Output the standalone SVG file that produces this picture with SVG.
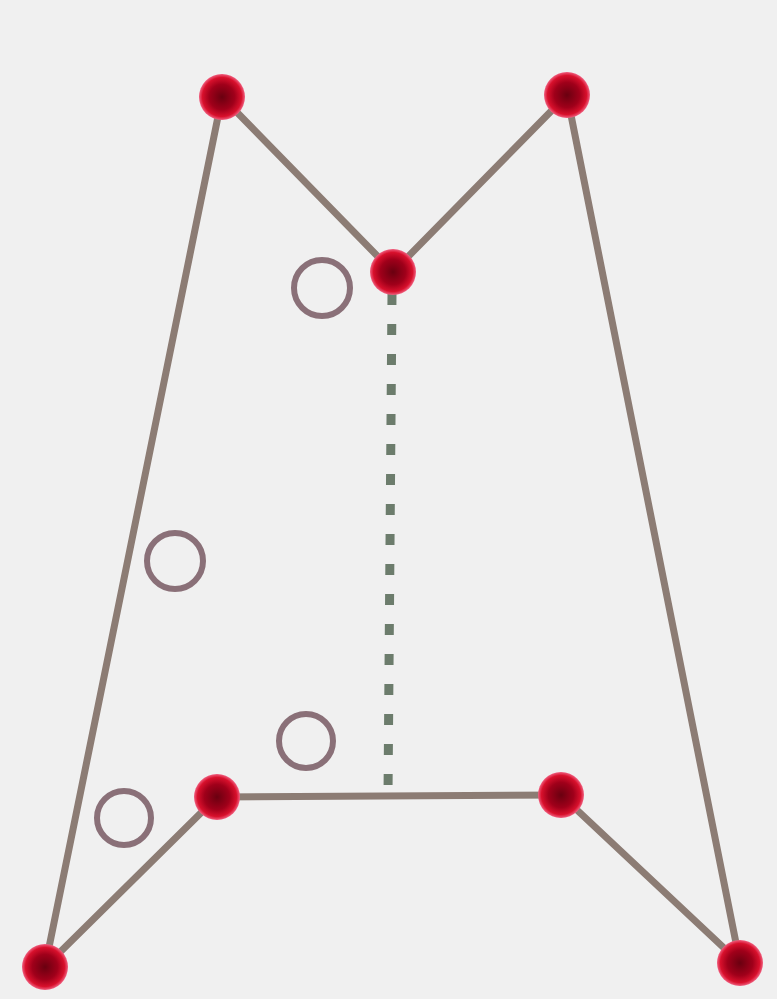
<svg xmlns="http://www.w3.org/2000/svg" width="777" height="999" viewBox="0 0 777 999">
<defs>
<radialGradient id="ng" cx="50%" cy="50%" r="50%">
<stop offset="0" stop-color="#6a0010"/>
<stop offset="0.55" stop-color="#a0001a"/>
<stop offset="0.85" stop-color="#d8102c"/>
<stop offset="1" stop-color="#f06080"/>
</radialGradient>
<style>
.e{stroke:#8c7c74;stroke-width:7;fill:none;stroke-linecap:round}
.d{stroke:#6c7c6c;stroke-width:9;fill:none;stroke-dasharray:11 19}
.n{fill:url(#ng)}
.h{fill:none;stroke:#8a7078;stroke-width:6}
</style>
</defs>
<rect width="777" height="999" fill="#f0f0f0"/>
<g id="connectors">
<line class="e" x1="222" y1="97" x2="393" y2="272"/>
<line class="e" x1="567" y1="95" x2="393" y2="272"/>
<line class="e" x1="222" y1="97" x2="45" y2="967"/>
<line class="e" x1="567" y1="95" x2="740" y2="963"/>
<line class="e" x1="217" y1="797" x2="561" y2="795"/>
<line class="e" x1="217" y1="797" x2="45" y2="967"/>
<line class="e" x1="561" y1="795" x2="740" y2="963"/>
<line class="d" x1="392" y1="294" x2="388" y2="796"/>
</g>
<g id="h1"><circle class="h" cx="322" cy="288" r="28"/></g>
<g id="h2"><circle class="h" cx="175" cy="561" r="28"/></g>
<g id="h3"><circle class="h" cx="306" cy="741" r="27"/></g>
<g id="h4"><circle class="h" cx="124" cy="818" r="27"/></g>
<g id="nA"><circle class="n" cx="222" cy="97" r="23"/></g>
<g id="nB"><circle class="n" cx="567" cy="95" r="23"/></g>
<g id="nC"><circle class="n" cx="393" cy="272" r="23"/></g>
<g id="nD"><circle class="n" cx="217" cy="797" r="23"/></g>
<g id="nE"><circle class="n" cx="561" cy="795" r="23"/></g>
<g id="nF"><circle class="n" cx="45" cy="967" r="23"/></g>
<g id="nG"><circle class="n" cx="740" cy="963" r="23"/></g>
</svg>
